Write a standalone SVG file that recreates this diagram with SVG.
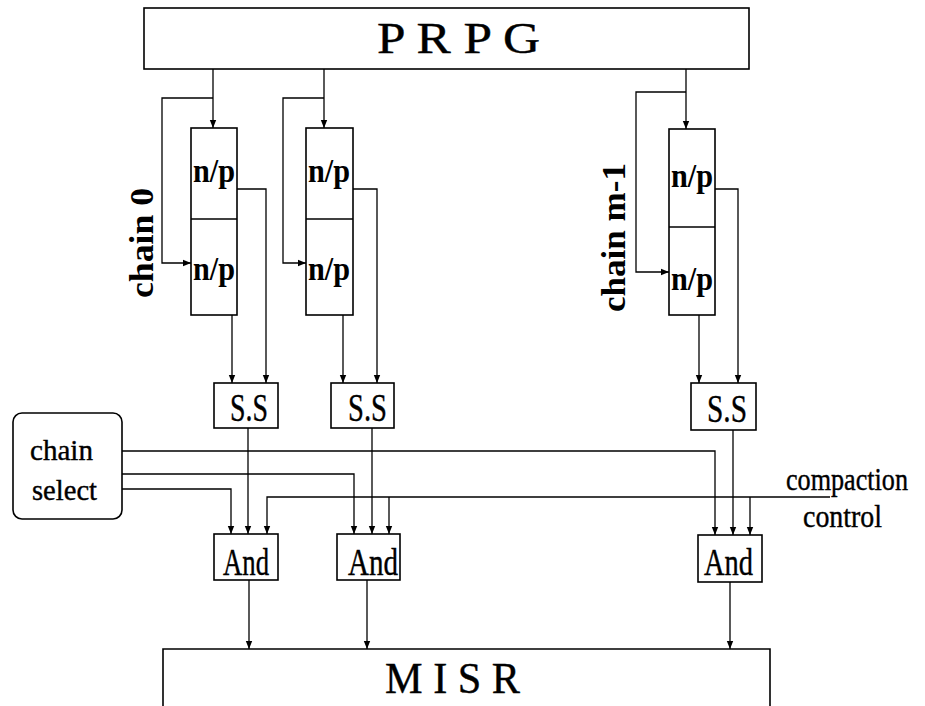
<svg xmlns="http://www.w3.org/2000/svg" width="925" height="706" viewBox="0 0 925 706">
<defs>
<marker id="ah" viewBox="0 0 8 8" refX="8" refY="4" markerWidth="8" markerHeight="8" markerUnits="userSpaceOnUse" orient="auto">
<path d="M0,0.8 L8,4 L0,7.2 Z" fill="#000"/>
</marker>
<style>
.box{fill:#fff;stroke:#000;stroke-width:1.6}
.ln{fill:none;stroke:#000;stroke-width:1.3}
.ar{fill:none;stroke:#000;stroke-width:1.3;marker-end:url(#ah)}
.t{font-family:"Liberation Serif","Times New Roman",serif;fill:#000}
.r{stroke:#000;stroke-width:0.4}
.b{font-weight:bold}
</style>
</defs>
<rect width="925" height="706" fill="#fff"/>

<g id="connectors">
<!-- chain 0 -->
<path class="ar" d="M213,69 V128"/>
<path class="ar" d="M213,98 H162 V263 H191"/>
<path class="ar" d="M237,189 H266 V383"/>
<path class="ar" d="M232,315 V383"/>
<!-- chain 1 -->
<path class="ar" d="M324,69 V128"/>
<path class="ar" d="M324,98 H283 V263 H306"/>
<path class="ar" d="M353,189 H377 V383"/>
<path class="ar" d="M343,315 V383"/>
<!-- chain m-1 -->
<path class="ar" d="M686,69 V129"/>
<path class="ar" d="M686,92 H636 V272 H669"/>
<path class="ar" d="M715,189 H738 V383"/>
<path class="ar" d="M699,315 V383"/>
<!-- S.S to And -->
<path class="ar" d="M248,428 V534"/>
<path class="ar" d="M372,428 V534"/>
<path class="ar" d="M733,430 V535"/>
<!-- chain select lines -->
<path class="ar" d="M122,451 H715 V535"/>
<path class="ar" d="M122,474 H354 V534"/>
<path class="ar" d="M122,489 H231 V534"/>
<!-- compaction control -->
<path class="ar" d="M830,497 H267 V534"/>
<path class="ar" d="M389,497 V534"/>
<path class="ar" d="M750,497 V535"/>
<!-- And to MISR -->
<path class="ar" d="M249,580 V649"/>
<path class="ar" d="M367,580 V649"/>
<path class="ar" d="M730,582 V649"/>
</g>

<g id="prpg">
<rect class="box" x="144" y="8" width="605" height="61"/>
<text class="t r" x="377" y="53" font-size="44" textLength="163" lengthAdjust="spacingAndGlyphs">P R P G</text>
</g>

<g id="chain0">
<rect class="box" x="191" y="128" width="46" height="187"/>
<line class="ln" x1="191" y1="219" x2="237" y2="219"/>
<text class="t b" x="193" y="182" font-size="34" textLength="42" lengthAdjust="spacingAndGlyphs">n/p</text>
<text class="t b" x="193" y="280" font-size="34" textLength="42" lengthAdjust="spacingAndGlyphs">n/p</text>
</g>
<text id="label-chain0" class="t b" transform="translate(153,298) rotate(-90)" font-size="34" textLength="110" lengthAdjust="spacingAndGlyphs">chain 0</text>

<g id="chain1">
<rect class="box" x="306" y="128" width="47" height="187"/>
<line class="ln" x1="306" y1="219" x2="353" y2="219"/>
<text class="t b" x="308" y="182" font-size="34" textLength="42" lengthAdjust="spacingAndGlyphs">n/p</text>
<text class="t b" x="308" y="280" font-size="34" textLength="42" lengthAdjust="spacingAndGlyphs">n/p</text>
</g>

<g id="chainm1">
<rect class="box" x="669" y="129" width="46" height="186"/>
<line class="ln" x1="669" y1="227" x2="715" y2="227"/>
<text class="t b" x="671" y="187" font-size="34" textLength="42" lengthAdjust="spacingAndGlyphs">n/p</text>
<text class="t b" x="671" y="290" font-size="34" textLength="42" lengthAdjust="spacingAndGlyphs">n/p</text>
</g>
<text id="label-chainm1" class="t b" transform="translate(625,312) rotate(-90)" font-size="34" textLength="149" lengthAdjust="spacingAndGlyphs">chain m-1</text>

<g id="ss0">
<rect class="box" x="214" y="383" width="64" height="45"/>
<text class="t r" x="230" y="421" font-size="40" textLength="38" lengthAdjust="spacingAndGlyphs">S.S</text>
</g>
<g id="ss1">
<rect class="box" x="331" y="383" width="63" height="45"/>
<text class="t r" x="348" y="421" font-size="40" textLength="39" lengthAdjust="spacingAndGlyphs">S.S</text>
</g>
<g id="ss2">
<rect class="box" x="691" y="383" width="65" height="47"/>
<text class="t r" x="707" y="422" font-size="40" textLength="40" lengthAdjust="spacingAndGlyphs">S.S</text>
</g>

<g id="chain-select">
<rect class="box" x="13" y="413" width="109" height="106" rx="9" ry="9"/>
<text class="t r" x="30" y="460" font-size="30" textLength="63" lengthAdjust="spacingAndGlyphs">chain</text>
<text class="t r" x="32" y="500" font-size="30" textLength="65" lengthAdjust="spacingAndGlyphs">select</text>
</g>

<g id="compaction-control">
<text class="t r" x="786" y="490" font-size="31" textLength="122" lengthAdjust="spacingAndGlyphs">compaction</text>
<text class="t r" x="803" y="527" font-size="31" textLength="79" lengthAdjust="spacingAndGlyphs">control</text>
</g>

<g id="and0">
<rect class="box" x="214" y="534" width="64" height="46"/>
<text class="t r" x="223" y="575" font-size="38" textLength="46" lengthAdjust="spacingAndGlyphs">And</text>
</g>
<g id="and1">
<rect class="box" x="337" y="534" width="63" height="46"/>
<text class="t r" x="348" y="575" font-size="38" textLength="50" lengthAdjust="spacingAndGlyphs">And</text>
</g>
<g id="and2">
<rect class="box" x="698" y="535" width="64" height="47"/>
<text class="t r" x="704" y="575" font-size="38" textLength="49" lengthAdjust="spacingAndGlyphs">And</text>
</g>

<g id="misr">
<path class="box" d="M163,710 V649 H770 V710"/>
<text class="t r" x="385" y="693" font-size="44" textLength="135" lengthAdjust="spacingAndGlyphs">M I S R</text>
</g>
</svg>
